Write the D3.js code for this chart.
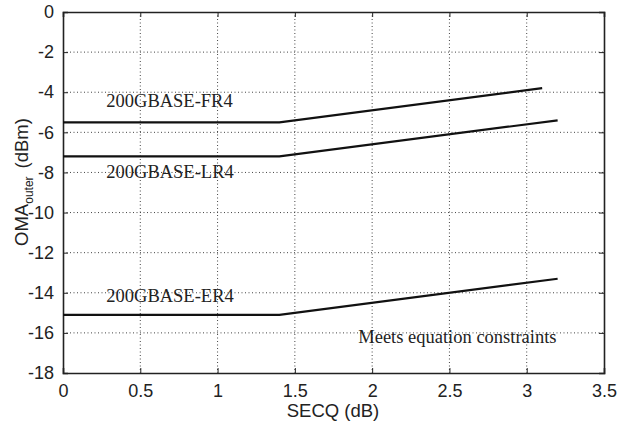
<!DOCTYPE html>
<html>
<head>
<meta charset="utf-8">
<script src="https://cdn.jsdelivr.net/npm/d3@7"></script>
<style>
  body { margin: 0; background: #fff; }
  .tick text { font-family: "Liberation Sans", Arial, sans-serif; font-size: 18px; fill: #222; }
  .lbl { font-family: "Liberation Serif", "Times New Roman", serif; font-size: 18.5px; fill: #222; }
  .axis-title { font-family: "Liberation Sans", Arial, sans-serif; font-size: 18.5px; fill: #222; }
</style>
</head>
<body>
<div id="chart"></div>
<script>
// Chart size
let svgWidth = 620;
let svgHeight = 427;
let margin = { top: 12, right: 16, bottom: 54, left: 63 };
let width = svgWidth - margin.left - margin.right;
let height = svgHeight - margin.top - margin.bottom;

// Data
let xTicks = [0, 0.5, 1, 1.5, 2, 2.5, 3, 3.5];
let yTicks = [0, -2, -4, -6, -8, -10, -12, -14, -16, -18];
let seriesNames = ["200GBASE-FR4", "200GBASE-LR4", "200GBASE-ER4"];
let fr4 = [[0, -5.5], [1.4, -5.5], [3.1, -3.8]];
let lr4 = [[0, -7.2], [1.4, -7.2], [3.2, -5.4]];
let er4 = [[0, -15.1], [1.4, -15.1], [3.2, -13.3]];
// label anchor points (data units)
let labelPos = [[0.28, -4.4], [0.28, -7.95], [0.28, -14.15]];
let noteText = "Meets equation constraints";
let notePos = [1.91, -16.2];

let svg = d3.select("#chart").append("svg")
    .attr("width", svgWidth)
    .attr("height", svgHeight);

let chartGroup = svg.append("g")
    .attr("transform", `translate(${margin.left}, ${margin.top})`);

let x = d3.scaleLinear().domain([0, 3.5]).range([0, width]);
let y = d3.scaleLinear().domain([-18, 0]).range([height, 0]);

// plain hyphen for negatives, like the original
let fmt = d => String(d);

// grid lines (dotted)
chartGroup.append("g")
    .selectAll("line")
    .data(xTicks.slice(1, -1))
    .join("line")
    .attr("x1", d => x(d)).attr("x2", d => x(d))
    .attr("y1", 0).attr("y2", height)
    .attr("stroke", "#444")
    .attr("stroke-width", 1)
    .attr("stroke-dasharray", "1,2.5");

chartGroup.append("g")
    .selectAll("line")
    .data(yTicks.slice(1, -1))
    .join("line")
    .attr("x1", 0).attr("x2", width)
    .attr("y1", d => y(d)).attr("y2", d => y(d))
    .attr("stroke", "#444")
    .attr("stroke-width", 1)
    .attr("stroke-dasharray", "1,2.5");

// axes
let bottomAxis = d3.axisBottom(x).tickValues(xTicks).tickSize(-5).tickPadding(11).tickFormat(fmt);
let leftAxis = d3.axisLeft(y).tickValues(yTicks).tickSize(-5).tickPadding(9).tickFormat(fmt);
let topAxis = d3.axisTop(x).tickValues(xTicks).tickSize(-5).tickFormat("");
let rightAxis = d3.axisRight(y).tickValues(yTicks).tickSize(-5).tickFormat("");

chartGroup.append("g").attr("transform", `translate(0, ${height})`).call(bottomAxis);
chartGroup.append("g").call(leftAxis);
chartGroup.append("g").call(topAxis);
chartGroup.append("g").attr("transform", `translate(${width}, 0)`).call(rightAxis);

chartGroup.selectAll(".domain").attr("stroke", "#222").attr("stroke-width", 1.6);
chartGroup.selectAll(".tick line").attr("stroke", "#222");
chartGroup.selectAll(".tick text").attr("fill", "#222");

// series lines
let line = d3.line().x(d => x(d[0])).y(d => y(d[1]));
chartGroup.append("g")
    .selectAll("path")
    .data([fr4, lr4, er4])
    .join("path")
    .attr("d", line)
    .attr("fill", "none")
    .attr("stroke", "#111")
    .attr("stroke-width", 2.2);

// series labels
chartGroup.append("g")
    .selectAll("text")
    .data(seriesNames)
    .join("text")
    .attr("class", "lbl")
    .attr("x", (d, i) => x(labelPos[i][0]))
    .attr("y", (d, i) => y(labelPos[i][1]))
    .attr("dy", "0.35em")
    .text(d => d);

chartGroup.append("text")
    .attr("class", "lbl")
    .attr("x", x(notePos[0]))
    .attr("y", y(notePos[1]))
    .attr("dy", "0.35em")
    .text(noteText);

// axis titles
svg.append("text")
    .attr("class", "axis-title")
    .attr("x", 333)
    .attr("y", 417)
    .attr("text-anchor", "middle")
    .text("SECQ (dB)");

let yTitle = svg.append("text")
    .attr("class", "axis-title")
    .attr("transform", "translate(28, 182) rotate(-90)")
    .attr("text-anchor", "middle");
yTitle.append("tspan").text("OMA");
yTitle.append("tspan").attr("font-size", "12px").attr("dy", "5").text("outer");
yTitle.append("tspan").attr("dy", "-5").attr("dx", "8").text("(dBm)");
</script>
</body>
</html>
